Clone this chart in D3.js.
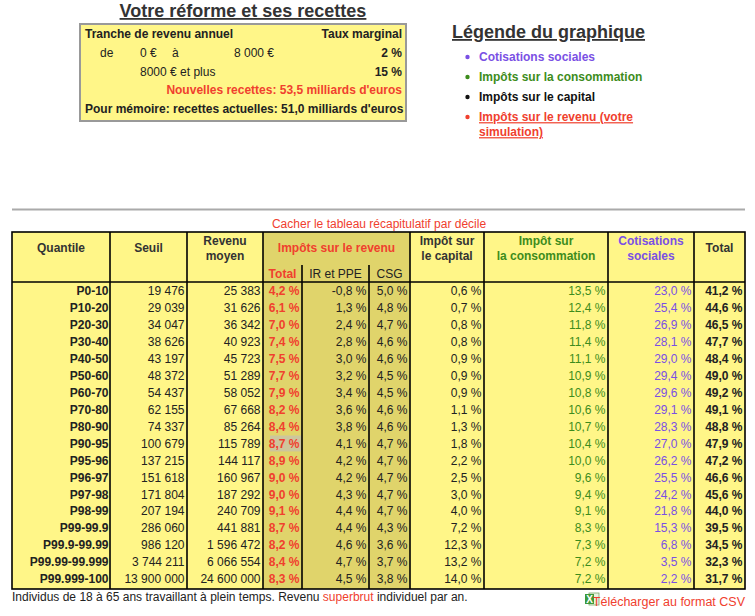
<!DOCTYPE html>
<html><head><meta charset="utf-8">
<script src="https://cdn.jsdelivr.net/npm/d3@7"></script>
<style>
body{margin:0;background:#fff;}
svg{display:block;font-family:"Liberation Sans",Arial,Helvetica,sans-serif;}
</style></head>
<body>
<svg id="c" width="755" height="616"></svg>
<script>
// ---- data ----
const quantiles = ["P0-10","P10-20","P20-30","P30-40","P40-50","P50-60","P60-70","P70-80","P80-90","P90-95","P95-96","P96-97","P97-98","P98-99","P99-99.9","P99.9-99.99","P99.99-99.999","P99.999-100"];
const seuils = [19476,29039,34047,38626,43197,48372,54437,62155,74337,100679,137215,151618,171804,207194,286060,986120,3744211,13900000];
const revenus = [25383,31626,36342,40923,45723,51289,58052,67668,85264,115789,144117,160967,187292,240709,441881,1596472,6066554,24600000];
const irTotal = [4.2,6.1,7.0,7.4,7.5,7.7,7.9,8.2,8.4,8.7,8.9,9.0,9.0,9.1,8.7,8.2,8.4,8.3];
const irPPE = [-0.8,1.3,2.4,2.8,3.0,3.2,3.4,3.6,3.8,4.1,4.2,4.2,4.3,4.4,4.4,4.6,4.7,4.5];
const csg = [5.0,4.8,4.7,4.6,4.6,4.5,4.5,4.6,4.6,4.7,4.7,4.7,4.7,4.7,4.3,3.6,3.7,3.8];
const capital = [0.6,0.7,0.8,0.8,0.9,0.9,0.9,1.1,1.3,1.8,2.2,2.5,3.0,4.0,7.2,12.3,13.2,14.0];
const consommation = [13.5,12.4,11.8,11.4,11.1,10.9,10.8,10.6,10.7,10.4,10.0,9.6,9.4,9.1,8.3,7.3,7.2,7.2];
const cotisations = [23.0,25.4,26.9,28.1,29.0,29.4,29.6,29.1,28.3,27.0,26.2,25.5,24.2,21.8,15.3,6.8,3.5,2.2];
const totals = [41.2,44.6,46.5,47.7,48.4,49.0,49.2,49.1,48.8,47.9,47.2,46.6,45.6,44.0,39.5,34.5,32.3,31.7];

const bracketFrom = [0, 8000];
const bracketTo = [8000, null];
const bracketRate = [2, 15];
const nouvellesRecettes = 53.5;
const recettesActuelles = 51.0;

const legendLabels = ["Cotisations sociales","Impôts sur la consommation","Impôts sur le capital","Impôts sur le revenu (votre simulation)"];

// ---- styles ----
const RED = "#f0402e", GREEN = "#3d8c1c", PURPLE = "#7a50e4", TXT = "#222", HDR = "#333";
const YEL = "#fff688", KHAKI = "#e0d46b";

const fr = d3.formatLocale({decimal:",", thousands:"\u00a0", grouping:[3], currency:["","\u00a0€"], minus:"-"});
const fInt = fr.format(",d");
const fPct = v => fr.format(".1f")(v) + "\u00a0%";

const svg = d3.select("#c");

// ---- reform box ----
svg.append("text").attr("x",243).attr("y",17).attr("text-anchor","middle")
  .attr("font-size",18).attr("font-weight","bold").attr("fill",HDR)
  .attr("text-decoration","underline").text("Votre réforme et ses recettes");
svg.append("rect").attr("x",80).attr("y",24).attr("width",326).attr("height",97)
  .attr("fill",YEL).attr("stroke","#999").attr("stroke-width",2);
const bx = svg.append("g").attr("font-size",12).attr("fill",TXT);
bx.append("text").attr("x",85).attr("y",38).attr("font-weight","bold").text("Tranche de revenu annuel");
bx.append("text").attr("x",402).attr("y",38).attr("text-anchor","end").attr("font-weight","bold").text("Taux marginal");
const fEur = v => fInt(v) + "\u00a0€";
bracketFrom.forEach((f,i)=>{
  const y = 57 + i*19;
  if (bracketTo[i] !== null) {
    bx.append("text").attr("x",100).attr("y",y).text("de");
    bx.append("text").attr("x",140).attr("y",y).text(fEur(f));
    bx.append("text").attr("x",172).attr("y",y).text("à");
    bx.append("text").attr("x",234).attr("y",y).text(fEur(bracketTo[i]));
  } else {
    bx.append("text").attr("x",140).attr("y",y).text(f + "\u00a0€ et plus");
  }
  bx.append("text").attr("x",402).attr("y",y).attr("text-anchor","end").attr("font-weight","bold").text(bracketRate[i]+"\u00a0%");
});
bx.append("text").attr("x",402).attr("y",94).attr("text-anchor","end").attr("font-weight","bold").attr("fill",RED)
  .text("Nouvelles recettes: " + fr.format(".1f")(nouvellesRecettes) + " milliards d'euros");
bx.append("text").attr("x",85).attr("y",113).attr("font-weight","bold")
  .text("Pour mémoire: recettes actuelles: " + fr.format(".1f")(recettesActuelles) + " milliards d'euros");

// ---- legend ----
svg.append("text").attr("x",452).attr("y",38).attr("font-size",18).attr("font-weight","bold")
  .attr("fill",HDR).attr("text-decoration","underline").text("Légende du graphique");
const legColors = [PURPLE, GREEN, "#111", RED];
const lg = svg.append("g").attr("font-size",12).attr("font-weight","bold");
legendLabels.forEach((l,i)=>{
  const y = 57 + i*20;
  lg.append("circle").attr("cx",467.5).attr("cy",y).attr("r",2.2).attr("fill",legColors[i]);
  if (i < 3) {
    lg.append("text").attr("x",479).attr("y",y).attr("dy",".35em").attr("fill",legColors[i]).text(l);
  } else {
    const t = lg.append("text").attr("x",479).attr("y",y).attr("dy",".35em").attr("fill",legColors[i]).attr("text-decoration","underline");
    t.append("tspan").attr("x",479).text("Impôts sur le revenu (votre");
    t.append("tspan").attr("x",479).attr("dy",15).text("simulation)");
  }
});

// ---- separator and toggle ----
svg.append("line").attr("x1",12).attr("x2",745).attr("y1",209.5).attr("y2",209.5).attr("stroke","#aaa").attr("stroke-width",2);
svg.append("text").attr("x",379).attr("y",224).attr("dy",".35em").attr("text-anchor","middle")
  .attr("font-size",12).attr("fill",RED).text("Cacher le tableau récapitulatif par décile");

// ---- table ----
const T = 232, SUB = 265, HB = 282, B = 589;
const edges = [12,110,187,263,302,369,410,484,608,694,745];
const y = d3.scaleBand().domain(quantiles).range([282.5,587.5]);
const tbl = svg.append("g");
// backgrounds
tbl.append("rect").attr("x",edges[0]).attr("y",T).attr("width",edges[10]-edges[0]).attr("height",B-T).attr("fill",YEL);
tbl.append("rect").attr("x",edges[3]).attr("y",T).attr("width",edges[6]-edges[3]).attr("height",B-T).attr("fill",KHAKI);
// hovered cell
tbl.append("rect").attr("x",270).attr("y",y("P90-95")+0.5).attr("width",31).attr("height",y.bandwidth()-1).attr("fill","#cdc69c");

// headers
const hd = tbl.append("g").attr("font-size",12).attr("font-weight","bold").attr("text-anchor","middle").attr("fill",HDR);
function hdr(x, lines, color, yc){
  const t = hd.append("text").attr("fill",color||HDR);
  const y0 = yc - (lines.length-1)*7.5;
  lines.forEach((s,i)=>t.append("tspan").attr("x",x).attr("y",y0+i*15).attr("dy",".35em").text(s));
}
const mid = i => (edges[i]+edges[i+1])/2;
hdr(mid(0),["Quantile"],null,248);
hdr(mid(1),["Seuil"],null,248);
hdr(mid(2),["Revenu","moyen"],null,248.5);
hdr((edges[3]+edges[6])/2,["Impôts sur le revenu"],RED,248);
hdr(mid(3),["Total"],RED,273.5);
hd.append("text").attr("x",mid(4)).attr("y",273.5).attr("dy",".35em").attr("font-weight","normal").attr("fill",TXT).text("IR et PPE");
hd.append("text").attr("x",mid(5)).attr("y",273.5).attr("dy",".35em").attr("font-weight","normal").attr("fill",TXT).text("CSG");
hdr(mid(6),["Impôt sur","le capital"],null,248.5);
hdr(mid(7),["Impôt sur","la consommation"],GREEN,248.5);
hdr(mid(8),["Cotisations","sociales"],PURPLE,248.5);
hdr(mid(9),["Total"],null,248);

// body
const cols = [
  {vals:quantiles, fmt:d=>d, color:TXT, bold:true},
  {vals:seuils, fmt:fInt, color:TXT},
  {vals:revenus, fmt:fInt, color:TXT},
  {vals:irTotal, fmt:fPct, color:RED, bold:true},
  {vals:irPPE, fmt:fPct, color:TXT},
  {vals:csg, fmt:fPct, color:TXT},
  {vals:capital, fmt:fPct, color:TXT},
  {vals:consommation, fmt:fPct, color:GREEN},
  {vals:cotisations, fmt:fPct, color:PURPLE},
  {vals:totals, fmt:fPct, color:TXT, bold:true}
];
const body = tbl.append("g").attr("font-size",12).attr("text-anchor","end");
cols.forEach((c,ci)=>{
  body.append("g").selectAll("text").data(c.vals).join("text")
    .attr("x", edges[ci+1] - (ci===0?1.5:2.5))
    .attr("y", (d,i)=>y(quantiles[i]) + y.bandwidth()/2)
    .attr("dy",".35em")
    .attr("fill",c.color)
    .attr("font-weight",c.bold?"bold":"normal")
    .text(c.fmt);
});

// grid lines
const ln = tbl.append("g").attr("stroke","#000").attr("stroke-width",1.6);
ln.append("rect").attr("x",edges[0]).attr("y",T).attr("width",edges[10]-edges[0]).attr("height",B-T).attr("fill","none");
ln.append("line").attr("x1",edges[0]).attr("x2",edges[10]).attr("y1",HB).attr("y2",HB);
edges.slice(1,-1).forEach((e,i)=>{
  const sub = (i===3 || i===4); // edges 302, 369
  ln.append("line").attr("x1",e).attr("x2",e).attr("y1",sub?SUB:T).attr("y2",B);
});

// ---- footer ----
const ft = svg.append("text").attr("x",12).attr("y",597).attr("dy",".35em").attr("font-size",12).attr("fill",TXT);
ft.append("tspan").text("Individus de 18 à 65 ans travaillant à plein temps. Revenu ");
ft.append("tspan").attr("fill",RED).text("superbrut");
ft.append("tspan").text(" individuel par an.");

// excel icon
const ic = svg.append("g").attr("transform","translate(585,592)");
ic.append("rect").attr("x",4).attr("y",1).attr("width",10).attr("height",12).attr("fill","#e8f2e0").attr("stroke","#7aa86a").attr("stroke-width",0.8);
ic.append("rect").attr("x",0).attr("y",2).attr("width",9).attr("height",10).attr("fill","#3c9a3c");
ic.append("text").attr("x",4.5).attr("y",10.5).attr("text-anchor","middle").attr("font-size",10).attr("font-weight","bold").attr("fill","#fff").text("X");
svg.append("text").attr("x",745).attr("y",602).attr("dy",".35em").attr("text-anchor","end").attr("font-size",12.5).attr("fill",RED).text("Télécharger au format CSV");
</script>
</body></html>
